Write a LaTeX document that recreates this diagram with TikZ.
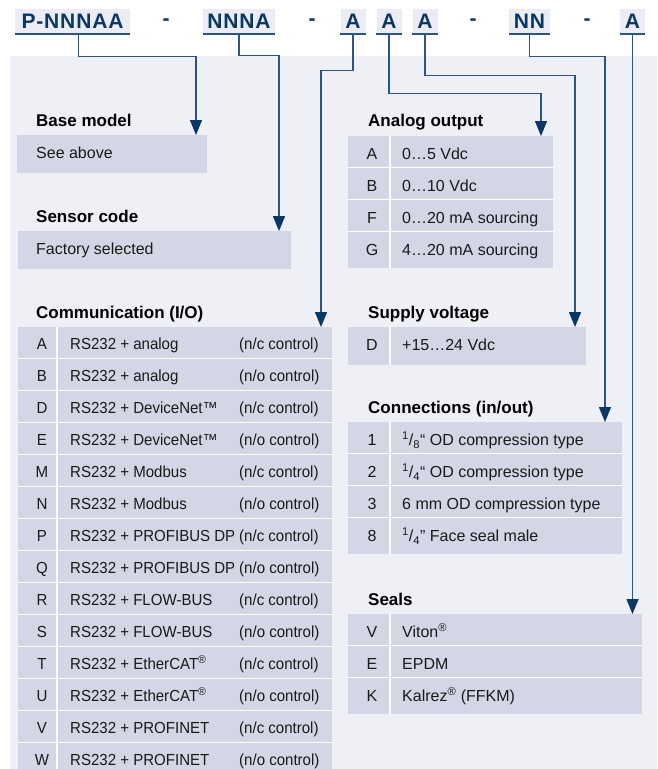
\documentclass[tikz,border=0pt]{standalone}
\usepackage{fontspec}
\setmainfont{Liberation Sans}
\newfontfamily\codefont[LetterSpace=4]{Liberation Sans}
\newfontfamily\narrowfont[FakeStretch=0.94]{Liberation Sans}
\usepackage{xcolor}
\usetikzlibrary{arrows.meta}
\definecolor{panel}{HTML}{EFF0F5}
\definecolor{cellfill}{HTML}{D3D7E5}
\definecolor{codefill}{HTML}{ECEDF4}
\definecolor{navy}{HTML}{0B3766}
\definecolor{wire}{HTML}{2A5585}
\definecolor{ink}{HTML}{1A1A1A}

\begin{document}
\begin{tikzpicture}[x=1pt,y=-1pt]
	\tikzset{codebox/.style = {fill=codefill, inner sep=0pt, minimum height=24pt,
			text=navy, font=\codefont\bfseries\fontsize{21pt}{21pt}\selectfont}}
	\tikzset{minus/.style = {inner sep=0pt, text=navy,
			font=\codefont\bfseries\fontsize{21pt}{21pt}\selectfont}}
	\tikzset{head/.style = {anchor=base west, inner sep=0pt, text=black,
			font=\bfseries\fontsize{17pt}{20pt}\selectfont}}
	\tikzset{cellbox/.style = {anchor=north west, fill=cellfill, inner sep=0pt}}
	\tikzset{keytext/.style = {anchor=base, inner sep=0pt, text=ink,
			font=\fontsize{16pt}{19pt}\selectfont}}
	\tikzset{entry/.style = {anchor=base west, inner sep=0pt, text=ink,
			font=\fontsize{16pt}{19pt}\selectfont}}
	\tikzset{narrow/.style = {font=\narrowfont\fontsize{16pt}{19pt}\selectfont}}
	\tikzset{cellline/.style = {white, line width=1.2pt}}
	\tikzset{connector/.style = {wire, line width=1.3pt,
			-{Triangle[length=15pt,width=12pt,color=navy]}}}
	\useasboundingbox (0,0) rectangle (657,769);
	\fill[white] (0,0) rectangle (657,769);
	\fill[panel] (10,56) rectangle (657,769);
	% order code
	\node[codebox, minimum width=115pt] (cBase) at (72.5,21) {P-NNNAA};
	\node[minus] (m1) at (166,22.5) {-};
	\node[codebox, minimum width=72pt] (cSensor) at (239,21) {NNNA};
	\node[minus] (m2) at (312,22.5) {-};
	\node[codebox, minimum width=25pt] (cComm) at (353,21) {A};
	\node[codebox, minimum width=25pt] (cAnalog) at (389,21) {A};
	\node[codebox, minimum width=25pt] (cSupply) at (425,21) {A};
	\node[minus] (m3) at (473,22.5) {-};
	\node[codebox, minimum width=41pt] (cConn) at (529.5,21) {NN};
	\node[minus] (m4) at (587,22.5) {-};
	\node[codebox, minimum width=25pt] (cSeal) at (632.5,21) {A};
	\foreach \n in {cBase,cSensor,cComm,cAnalog,cSupply,cConn,cSeal}
		\draw[wire, line width=2pt] ([yshift=-1pt]\n.south west) -- ([yshift=-1pt]\n.south east);
	% base model
	\node[head] (hBase) at (36,126) {Base model};
	\node[cellbox, minimum width=190pt, minimum height=38pt] (tBase) at (17,135) {};
	\node[entry] (vBase) at (36,158) {See above};
	% sensor code
	\node[head] (hSensor) at (36,222) {Sensor code};
	\node[cellbox, minimum width=273pt, minimum height=38pt] (tSensor) at (18,231) {};
	\node[entry] (vSensor) at (36,254) {Factory selected};
	% communication
	\node[head] (hComm) at (36,318) {Communication (I/O)};
	\node[cellbox, minimum width=314pt, minimum height=442pt] (tComm) at (18,327) {};
	\foreach \i in {1,...,13}
		\draw[cellline] (18,326.5+32*\i) -- (332,326.5+32*\i);
	\draw[cellline] (57,327) -- (57,769);
	\foreach \k/\t/\c [count=\i from 0] in {A/analog/c, B/analog/o,
			D/DeviceNet™/c, E/DeviceNet™/o, M/Modbus/c, N/Modbus/o,
			P/PROFIBUS DP/c, Q/PROFIBUS DP/o, R/FLOW-BUS/c, S/FLOW-BUS/o,
			T/EtherCAT\textsuperscript{®}/c, U/EtherCAT\textsuperscript{®}/o,
			V/PROFINET/c, W/PROFINET/o} {
		\node[keytext, narrow] (kComm\i) at (42,349.5+32*\i) {\k};
		\node[entry, narrow] (vComm\i) at (70,349.5+32*\i) {RS232 + \t};
		\node[entry, narrow] (oComm\i) at (239,349.5+32*\i) {(n/\c\ control)};
	}
	% analog output
	\node[head] (hAnalog) at (368,126) {Analog output};
	\node[cellbox, minimum width=205pt, minimum height=132pt] (tAnalog) at (348,136) {};
	\foreach \i in {1,2,3}
		\draw[cellline] (348,135.5+32*\i) -- (553,135.5+32*\i);
	\draw[cellline] (390,136) -- (390,268);
	\foreach \k/\t [count=\i from 0] in {A/0…5 Vdc, B/0…10 Vdc,
			F/0…20 mA sourcing, G/4…20 mA sourcing} {
		\node[keytext] (kAnalog\i) at (372,159.5+32*\i) {\k};
		\node[entry] (vAnalog\i) at (402,159.5+32*\i) {\t};
	}
	% supply voltage
	\node[head] (hSupply) at (368,318) {Supply voltage};
	\node[cellbox, minimum width=238pt, minimum height=38pt] (tSupply) at (348,327) {};
	\draw[cellline] (390,327) -- (390,365);
	\node[keytext] (kSupply) at (372,350.5) {D};
	\node[entry] (vSupply) at (402,350.5) {+15…24 Vdc};
	% connections
	\node[head] (hConn) at (368,413) {Connections (in/out)};
	\node[cellbox, minimum width=274pt, minimum height=132pt] (tConn) at (348,422) {};
	\foreach \i in {1,2,3}
		\draw[cellline] (348,421.5+32*\i) -- (622,421.5+32*\i);
	\draw[cellline] (390,422) -- (390,554);
	\foreach \k/\t [count=\i from 0] in {
			1/{\textsuperscript{1}/\textsubscript{8}“ OD compression type},
			2/{\textsuperscript{1}/\textsubscript{4}“ OD compression type},
			3/{6 mm OD compression type},
			8/{\textsuperscript{1}/\textsubscript{4}” Face seal male}} {
		\node[keytext] (kConn\i) at (372,445.5+32*\i) {\k};
		\node[entry] (vConn\i) at (402,445.5+32*\i) {\t};
	}
	% seals
	\node[head] (hSeal) at (368,605) {Seals};
	\node[cellbox, minimum width=294pt, minimum height=100pt] (tSeal) at (348,614) {};
	\foreach \i in {1,2}
		\draw[cellline] (348,613.5+32*\i) -- (642,613.5+32*\i);
	\draw[cellline] (390,614) -- (390,714);
	\foreach \k/\t [count=\i from 0] in {V/Viton\textsuperscript{®}, E/EPDM,
			K/Kalrez\textsuperscript{®} (FFKM)} {
		\node[keytext] (kSeal\i) at (372,637.5+32*\i) {\k};
		\node[entry] (vSeal\i) at (402,637.5+32*\i) {\t};
	}
	% arrow tips
	\coordinate (aBase) at (196,135);
	\coordinate (aSensor) at (279,231);
	\coordinate (aComm) at (321,327);
	\coordinate (aAnalog) at (541,136);
	\coordinate (aSupply) at (575,327);
	\coordinate (aConn) at (605,422);
	\coordinate (aSeal) at (632.5,614);
	% connectors
	\draw[connector] ([xshift=6pt]cBase.south) -- ++(0,23) -| (aBase);
	\draw[connector] (cSensor.south) -- ++(0,22) -| (aSensor);
	\draw[connector] (cComm.south) -- ++(0,37) -| (aComm);
	\draw[connector] (cAnalog.south) -- ++(0,60) -| (aAnalog);
	\draw[connector] (cSupply.south) -- ++(0,42) -| (aSupply);
	\draw[connector] (cConn.south) -- ++(0,23) -| (aConn);
	\draw[connector] (cSeal.south) -- (aSeal);
\end{tikzpicture}
\end{document}
